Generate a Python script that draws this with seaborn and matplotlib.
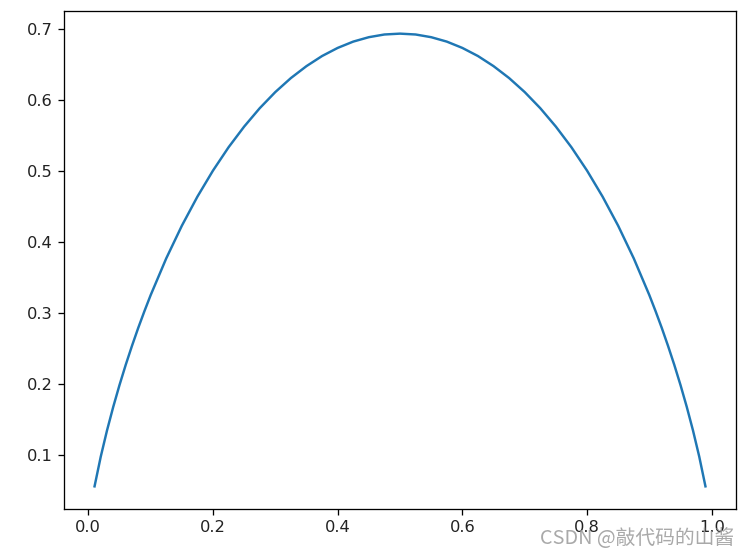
import matplotlib
matplotlib.use("Agg")
import matplotlib.pyplot as plt
import seaborn as sns
import pandas as pd

# probability p and entropy values
p_values = [0.01, 0.02, 0.03, 0.04, 0.05, 0.06, 0.07, 0.08, 0.09, 0.10,
            0.125, 0.15, 0.175, 0.2, 0.225, 0.25, 0.275, 0.3, 0.325, 0.35,
            0.375, 0.4, 0.425, 0.45, 0.475, 0.5,
            0.525, 0.55, 0.575, 0.6, 0.625, 0.65, 0.675, 0.7, 0.725, 0.75,
            0.775, 0.8, 0.825, 0.85, 0.875, 0.9, 0.91, 0.92, 0.93, 0.94,
            0.95, 0.96, 0.97, 0.98, 0.99]
entropy = [0.0560, 0.0980, 0.1347, 0.1679, 0.1985, 0.2270, 0.2536, 0.2788, 0.3025, 0.3251,
           0.3768, 0.4227, 0.4637, 0.5004, 0.5332, 0.5623, 0.5882, 0.6109, 0.6306, 0.6474,
           0.6616, 0.6730, 0.6819, 0.6881, 0.6919, 0.6931,
           0.6919, 0.6881, 0.6819, 0.6730, 0.6616, 0.6474, 0.6306, 0.6109, 0.5882, 0.5623,
           0.5332, 0.5004, 0.4637, 0.4227, 0.3768, 0.3251, 0.3025, 0.2788, 0.2536, 0.2270,
           0.1985, 0.1679, 0.1347, 0.0980, 0.0560]
watermark = "CSDN @敲代码的山酱"

df = pd.DataFrame({"p": p_values, "H": entropy})

DPI = 117
fig = plt.figure(figsize=(748 / DPI, 554 / DPI), dpi=DPI)
ax = fig.add_axes([64 / 748, 45 / 554, (736 - 64) / 748, (509 - 11) / 554])
sns.lineplot(data=df, x="p", y="H", ax=ax, color="#1f77b4", linewidth=1.5)
ax.set_xlabel("")
ax.set_ylabel("")
ax.set_yticks([0.1, 0.2, 0.3, 0.4, 0.5, 0.6, 0.7])
ax.set_xticks([0.0, 0.2, 0.4, 0.6, 0.8, 1.0])
ax.tick_params(labelcolor="#222222")

fig.text(0.982, 0.028, watermark, ha="right", va="center", fontsize=12.2,
         color="#9a9a9a", alpha=0.85, family=["Noto Sans CJK SC", "DejaVu Sans"])

fig.savefig("out.png", dpi=DPI)
